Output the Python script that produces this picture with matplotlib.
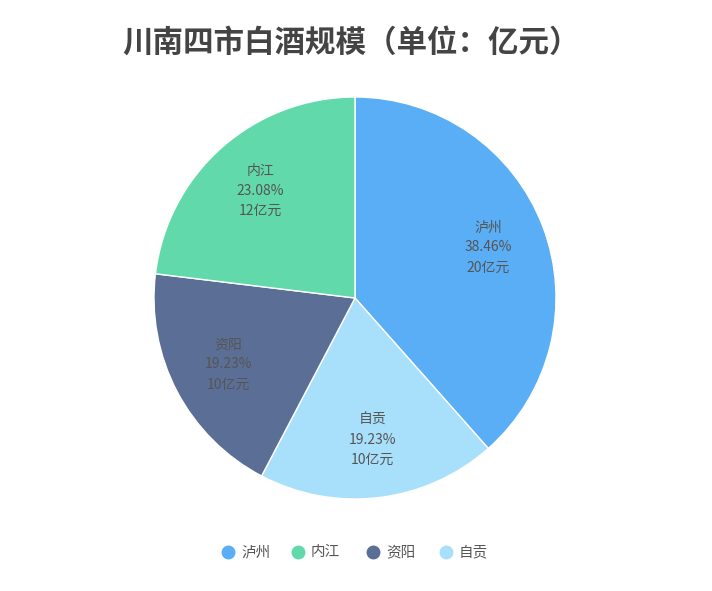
import matplotlib.pyplot as plt
import numpy as np

plt.rcParams['font.family'] = ['Noto Sans CJK SC', 'DejaVu Sans']

# data (legend order)
cities = ['泸州', '内江', '资阳', '自贡']
values = [20, 12, 10, 10]
colors = ['#5aaef5', '#62d9aa', '#5b6e96', '#a8e0fb']

# drawing order, clockwise from top
draw_order = [0, 3, 2, 1]

fig = plt.figure(figsize=(7.12, 5.91), dpi=100)
ax = fig.add_axes([0, 0, 1, 1])
ax.set_xlim(0, 712)
ax.set_ylim(591, 0)
ax.axis('off')

R = 201
pax = fig.add_axes([(355 - R) / 712, 1 - (298 + R) / 591, 2 * R / 712, 2 * R / 591])
vals = [values[i] for i in draw_order]
cols = [colors[i] for i in draw_order]
total = sum(values)
wedges, _ = pax.pie(vals, colors=cols, startangle=90, counterclock=False,
                    wedgeprops=dict(edgecolor='white', linewidth=1))
pax.set_xlim(-1, 1)
pax.set_ylim(-1, 1)
pax.set_aspect('equal')

for w, i in zip(wedges, draw_order):
    ang = np.deg2rad((w.theta1 + w.theta2) / 2)
    x, y = 0.71 * np.cos(ang), 0.71 * np.sin(ang)
    txt = f"{cities[i]}\n{values[i] / total * 100:.2f}%\n{values[i]}亿元"
    pax.text(x, y, txt, ha='center', va='center', fontsize=10,
             color='#555555', linespacing=1.55)

ax.text(351, 43, '川南四市白酒规模（单位：亿元）', ha='center', va='center',
        fontsize=22, fontweight='bold', color='#444444')

# legend
lx = [228, 298, 373, 446]
for x0, c, name in zip(lx, colors, cities):
    ax.plot(x0, 552, 'o', color=c, markersize=9)
    ax.text(x0 + 13, 552, name, ha='left', va='center', fontsize=10.5, color='#555555')

fig.savefig('out.png', dpi=100, facecolor='white')
